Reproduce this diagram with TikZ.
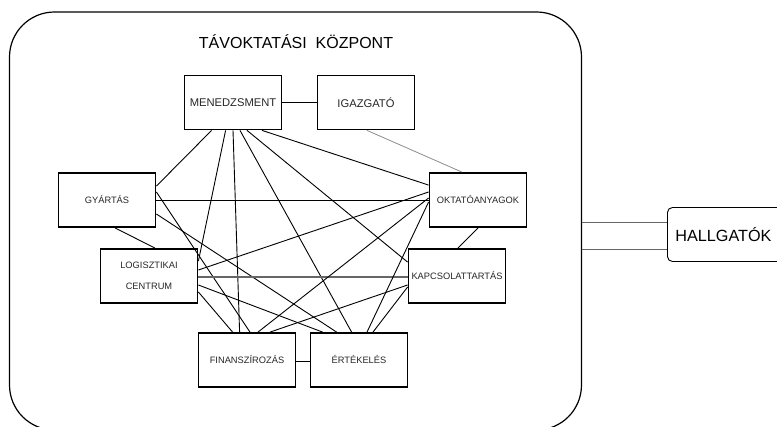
\documentclass[tikz,border=0pt]{standalone}
\usepackage{fontspec}
\setmainfont{Liberation Sans}
\usetikzlibrary{calc}

\begin{document}
\begin{tikzpicture}[x=1pt, y=-1pt,
  unit/.style = {draw, line width=1.8pt, minimum width=97pt, minimum height=54pt, inner sep=0.5pt, text=black!85, align=center, font=\fontsize{9.3}{21}\selectfont},
  bigunit/.style = {unit, font=\fontsize{11.2}{13}\selectfont},
  link/.style = {line width=0.9pt},
  faint/.style = {draw=black!45, line width=0.8pt},
  greylink/.style = {draw=black!60, line width=1.3pt}]
\useasboundingbox (0,0) rectangle (777,427);
\clip (0,0) rectangle (777,427);
\node (frame) [draw, line width=1.2pt, rounded corners=45pt, minimum width=572pt, minimum height=418pt, inner sep=0pt] at (295.5,221) {};
\node (title) [font=\fontsize{16}{19}\selectfont] at (296,42) {TÁVOKTATÁSI\ \ KÖZPONT};
\node (men) [bigunit] at (233,102.5) {MENEDZSMENT};
\node (iga) [bigunit] at (366,102.5) {IGAZGATÓ};
\node (gya) [unit] at (107,200) {GYÁRTÁS};
\node (okt) [unit] at (478,200) {OKTATÓANYAGOK};
\node (log) [unit] at (149,276) {LOGISZTIKAI\\CENTRUM};
\node (kap) [unit] at (457,276) {KAPCSOLATTARTÁS};
\node (fin) [unit] at (247,360) {FINANSZÍROZÁS};
\node (ert) [unit] at (359,360) {ÉRTÉKELÉS};
\node (hal) [draw, line width=0.9pt, rounded corners=5pt, anchor=west, minimum height=54pt, text width=110pt, align=left, inner xsep=8pt, font=\fontsize{16.2}{19}\selectfont] at (667,234.5) {HALLGATÓK};
% kapcsolatok
\draw[link] (men.east) -- (iga.west);
\draw[faint] ([shift={(1,0)}]iga.south) -- ([shift={(-16,0)}]okt.north);
\draw[link] ([shift={(28,0)}]men.south west) -- ([shift={(0,14)}]gya.north east);
\draw[link] ([shift={(42,0)}]men.south west) -- ([shift={(0,13)}]log.north east);
\draw[link] (men.south) -- ([shift={(42,0)}]fin.north west);
\draw[link] ([shift={(7,0)}]men.south) -- ([shift={(42,0)}]ert.north west);
\draw[link] ([shift={(14,0)}]men.south) -- ([shift={(0,14)}]kap.north west);
\draw[link] ([shift={(29,0)}]men.south) -- ([shift={(0,13)}]okt.north west);
\draw[link] (gya.east) -- (okt.west);
\draw[link] ([shift={(8,0)}]gya.south) -- ([shift={(6,0)}]log.north);
\draw[link] ([shift={(0,-8)}]gya.east) -- ([shift={(3,0)}]fin.north);
\draw[link] ([shift={(0,14)}]gya.east) -- ([shift={(27,0)}]ert.north west);
\draw[link] ([shift={(0,-6)}]log.east) -- ([shift={(0,-8)}]okt.west);
\draw[greylink] ([shift={(0,1)}]log.east) -- ([shift={(0,1)}]kap.west);
\draw[link] ([shift={(0,9)}]log.east) -- ([shift={(13,0)}]ert.north west);
\draw[link] ([shift={(0,16)}]log.east) -- ([shift={(35,0)}]fin.north west);
\draw[link] ([shift={(11,0)}]fin.north) -- ([shift={(0,-2)}]okt.west);
\draw[link] ([shift={(23,0)}]fin.north) -- ([shift={(0,9)}]kap.west);
\draw[link] ([shift={(0,1)}]fin.east) -- ([shift={(0,1)}]ert.west);
\draw[link] ([shift={(8,0)}]ert.north) -- ([shift={(0,2)}]okt.west);
\draw[link] ([shift={(14,0)}]ert.north) -- ([shift={(0,11)}]kap.west);
\draw[link] (okt.south) -- ([shift={(1,0)}]kap.north);
% hallgatok
\draw[greylink, line width=0.9pt] ([shift={(0,1)}]frame.east) -- ([shift={(0,-12.5)}]hal.west);
\draw[greylink, line width=0.9pt] ([shift={(0,28)}]frame.east) -- ([shift={(0,14.5)}]hal.west);
\end{tikzpicture}
\end{document}
